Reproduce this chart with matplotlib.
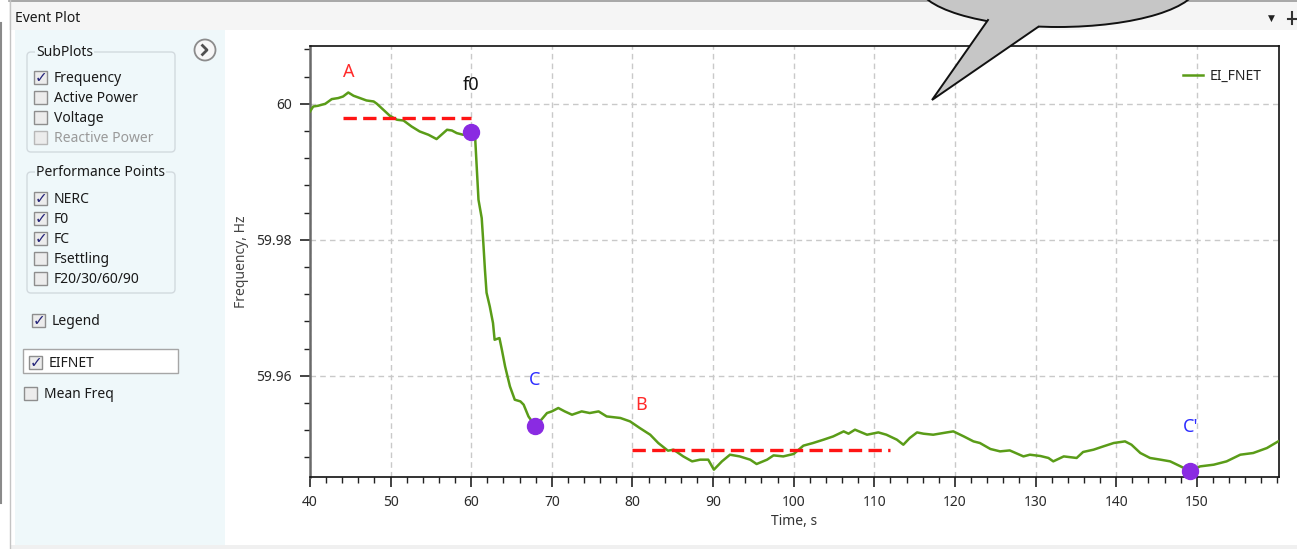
import matplotlib
matplotlib.use('Agg')
import matplotlib.pyplot as plt
from matplotlib.patches import Rectangle, FancyBboxPatch, Ellipse, Polygon, Circle
from matplotlib.ticker import FixedLocator, MultipleLocator

plt.rcParams['font.family'] = ['Noto Sans', 'DejaVu Sans']

# EI_FNET frequency trace (time in s, frequency in Hz)
time_s = [40.0, 40.4, 41.0, 41.9, 42.7, 43.5, 44.1, 44.75, 45.4, 46.2, 47.0, 47.9,
          48.3, 49.1, 49.9, 50.8, 51.6, 52.6, 53.6, 54.7, 55.7, 56.3, 57.0, 57.6,
          58.2, 59.0, 60.0, 60.5, 60.7, 60.9, 61.3, 61.5, 61.7, 61.9, 62.3, 62.7,
          62.9, 63.5, 63.8, 64.2, 64.8, 65.4, 66.1, 66.5, 67.1, 67.9, 68.7, 69.4,
          70.0, 70.8, 71.6, 72.5, 73.7, 74.7, 75.8, 76.8, 78.5, 79.7, 80.9, 82.2,
          83.2, 84.4, 85.1, 86.3, 87.4, 88.4, 89.4, 90.1, 91.1, 92.1, 93.3, 94.6,
          95.4, 96.7, 97.5, 98.7, 100.0, 101.2, 102.4, 103.7, 104.9, 106.2, 106.8,
          107.6, 109.1, 110.5, 111.5, 112.8, 113.6, 114.4, 115.3, 116.1, 117.3,
          119.0, 119.8, 121.1, 122.3, 123.1, 124.4, 125.6, 126.8, 128.5, 129.3,
          130.6, 131.6, 132.2, 133.5, 135.1, 135.9, 137.2, 138.4, 139.7, 141.1,
          141.9, 143.0, 144.2, 145.5, 146.7, 148.0, 149.2, 150.4, 152.1, 153.7,
          155.4, 157.0, 158.7, 160.1]
freq_hz = [59.99887, 59.99960, 59.99971, 60.00000, 60.00069, 60.00084, 60.00107,
           60.00166, 60.00118, 60.00084, 60.00049, 60.00034, 60.00000, 59.99912,
           59.99824, 59.99765, 59.99754, 59.99666, 59.99593, 59.99544, 59.99481,
           59.99544, 59.99618, 59.99607, 59.99569, 59.99544, 59.99588, 59.99471,
           59.99029, 59.98588, 59.98319, 59.97956, 59.97559, 59.97221, 59.97019,
           59.96775, 59.96529, 59.96554, 59.96382, 59.96137, 59.95843, 59.95647,
           59.95622, 59.95574, 59.95401, 59.95265, 59.95353, 59.95451, 59.95475,
           59.95525, 59.95475, 59.95426, 59.95475, 59.95451, 59.95475, 59.95401,
           59.95378, 59.95328, 59.95231, 59.95132, 59.95010, 59.94897, 59.94912,
           59.94813, 59.94740, 59.94765, 59.94765, 59.94618, 59.94740, 59.94838,
           59.94813, 59.94765, 59.94701, 59.94765, 59.94828, 59.94813, 59.94849,
           59.94971, 59.95010, 59.95059, 59.95107, 59.95181, 59.95147, 59.95206,
           59.95132, 59.95166, 59.95132, 59.95059, 59.94985, 59.95084, 59.95166,
           59.95147, 59.95132, 59.95166, 59.95181, 59.95107, 59.95034, 59.95010,
           59.94922, 59.94887, 59.94901, 59.94813, 59.94838, 59.94819, 59.94790,
           59.94740, 59.94813, 59.94790, 59.94878, 59.94912, 59.94960, 59.95010,
           59.95034, 59.94985, 59.94863, 59.94790, 59.94765, 59.94740, 59.94666,
           59.94593, 59.94666, 59.94691, 59.94740, 59.94838, 59.94863, 59.94936,
           59.95034]

# performance points f0, C, C'
point_t = [60.0, 67.9, 149.2]
point_f = [59.99588, 59.95265, 59.94593]

# pre-event (A) and settling (B) averages
a_span = [44.1, 60.0]
a_level = 59.99794
b_span = [80.0, 112.0]
b_level = 59.94902

# point labels
label_text = ['A', 'f0', 'C', 'B', "C'"]
label_t = [44.8, 60.0, 67.9, 81.1, 149.2]
label_f = [60.0047, 60.0028, 59.9593, 59.9557, 59.9525]
label_color = ['#ff2a2a', '#111111', '#2d2dff', '#ff2a2a', '#2d2dff']

x_ticks = [40, 50, 60, 70, 80, 90, 100, 110, 120, 130, 140, 150]
y_ticks = [59.96, 59.98, 60.0]
y_tick_labels = ['59.96', '59.98', '60']

subplot_items = ['Frequency', 'Active Power', 'Voltage', 'Reactive Power']
subplot_checked = [True, False, False, False]
perf_items = ['NERC', 'F0', 'FC', 'Fsettling', 'F20/30/60/90']
perf_checked = [True, True, True, False, False]

W, H = 1297, 549
fig = plt.figure(figsize=(W / 100, H / 100), dpi=100, facecolor='white')

# window chrome in pixel coordinates
bg = fig.add_axes([0, 0, 1, 1], zorder=0)
bg.set_xlim(0, W)
bg.set_ylim(H, 0)
bg.axis('off')

panel_c = '#eff8fa'
bg.add_patch(Rectangle((9, 0), W, 30, fc='#f5f5f5', ec='none'))
bg.plot([9, W], [0.5, 0.5], color='#9a9a9a', lw=1.2)
bg.plot([9.5, 9.5], [0, H], color='#c4c4c4', lw=1)
bg.plot([1, 1], [23, 503], color='#8a8a8a', lw=1.5)
bg.add_patch(Rectangle((15, 30), 210, 515, fc=panel_c, ec='none'))
bg.add_patch(Rectangle((10, 545), W, 4, fc='#f0f0f0', ec='none'))
bg.text(15, 18, 'Event Plot', fontsize=10, color='#1a1a1a', va='center')
bg.text(1271, 18, '\u25bc', fontsize=6.5, color='#222222', va='center', ha='center')
bg.plot([1292, 1292], [12, 24], color='#333333', lw=1.5)
bg.plot([1288, 1297], [19, 19], color='#333333', lw=1.5)

# collapse button
bg.add_patch(Circle((205, 50), 10.5, fc='#f7f7f7', ec='#8c8c8c', lw=1.3))
bg.plot([202.5, 207, 202.5], [45.5, 50, 54.5], color='#505050', lw=2)


def checkbox(x, y, checked, text, dim=False):
    bg.add_patch(Rectangle((x, y - 6.5), 13, 13, fc='#ececec',
                           ec='#b8b8b8' if dim else '#8e8e8e', lw=1))
    if checked:
        bg.text(x + 6.8, y + 0.5, '\u2713', family='DejaVu Sans', fontsize=11,
                fontweight='bold', color='#25257a', ha='center', va='center')
    bg.text(x + 20, y + 1.5, text, fontsize=10, va='center',
            color='#9a9a9a' if dim else '#1a1a1a')


def group_box(x0, y0, x1, y1, title):
    bg.add_patch(FancyBboxPatch((x0, y0), x1 - x0, y1 - y0,
                                boxstyle='round,pad=0,rounding_size=4',
                                fc='none', ec='#d2dade', lw=1))
    bg.text(x0 + 9, y0 + 1, title, fontsize=10, color='#1a1a1a', va='center',
            bbox=dict(fc=panel_c, ec='none', pad=1))


group_box(27, 52, 175, 152, 'SubPlots')
for i, (name, chk) in enumerate(zip(subplot_items, subplot_checked)):
    checkbox(34, 77 + 20 * i, chk, name, dim=(name == 'Reactive Power'))

group_box(27, 172, 175, 293, 'Performance Points')
for i, (name, chk) in enumerate(zip(perf_items, perf_checked)):
    checkbox(34, 198 + 20 * i, chk, name)

checkbox(32, 320, True, 'Legend')
bg.add_patch(Rectangle((23, 349), 155, 24, fc='white', ec='#a6a6a6', lw=1))
checkbox(29, 362, True, 'EIFNET')
checkbox(24, 393, False, 'Mean Freq')

# frequency plot
ax = fig.add_axes([310 / W, 1 - 477 / H, 969 / W, 431 / H], zorder=2)
ax.set_facecolor('white')
ax.plot(time_s, freq_hz, color='#5a9c18', lw=1.8, label='EI_FNET', zorder=3)
ax.plot(a_span, [a_level, a_level], color='#ff1414', lw=2.4,
        ls=(0, (4, 1.9)), zorder=4)
ax.plot(b_span, [b_level, b_level], color='#ff1414', lw=2.4,
        ls=(0, (4, 1.9)), zorder=4)
ax.plot(point_t, point_f, ls='none', marker='o', ms=11.5, color='#8a2be2',
        mec='#8a2be2', zorder=5, clip_on=False)
for txt, t, f, c in zip(label_text, label_t, label_f, label_color):
    ax.text(t, f, txt, color=c, fontsize=13, ha='center', va='center', zorder=6)

ax.set_xlim(40, 160.2)
ax.set_ylim(59.9451, 60.0085)
ax.xaxis.set_major_locator(FixedLocator(x_ticks))
ax.xaxis.set_minor_locator(MultipleLocator(2))
ax.yaxis.set_major_locator(FixedLocator(y_ticks))
ax.yaxis.set_minor_locator(MultipleLocator(0.004))
ax.set_yticklabels(y_tick_labels)
ax.set_xticklabels([str(v) for v in x_ticks])
ax.tick_params(which='major', length=7, width=1.2, colors='#222222',
               labelsize=10, labelcolor='#2b2b2b', pad=6)
ax.tick_params(which='minor', length=4, width=1, colors='#222222')
ax.grid(True, which='major', color='#c9c9c9', ls=(0, (4, 3)), lw=1)
for side in ['top', 'right', 'bottom']:
    ax.spines[side].set_color('#111111')
    ax.spines[side].set_linewidth(1.2)
ax.spines['left'].set_color('#6a6a6a')
ax.spines['left'].set_linewidth(1.8)
ax.set_xlabel('Time, s', fontsize=10, color='#333333', labelpad=3)
ax.set_ylabel('Frequency, Hz', fontsize=10, color='#444444', labelpad=5)
ax.legend(loc='upper right', bbox_to_anchor=(0.995, 0.975), frameon=False,
          handlelength=1.4, handletextpad=0.5, fontsize=10, labelcolor='#222222')

# speech bubble over the top-right corner
fg = fig.add_axes([0, 0, 1, 1], zorder=3)
fg.set_xlim(0, W)
fg.set_ylim(H, 0)
fg.axis('off')
bubble_c = '#c6c6c6'
fg.add_patch(Ellipse((1058, -16), 280, 86, fc=bubble_c, ec='#111111', lw=1.4))
fg.add_patch(Polygon([(988, 20), (932, 100), (1038, 27), (1040, 8), (988, 8)],
                     closed=True, fc=bubble_c, ec='none'))
fg.plot([988, 932, 1038], [20, 100, 27], color='#111111', lw=1.4,
        solid_joinstyle='miter')

fig.savefig('out.png', dpi=100, facecolor=fig.get_facecolor())
